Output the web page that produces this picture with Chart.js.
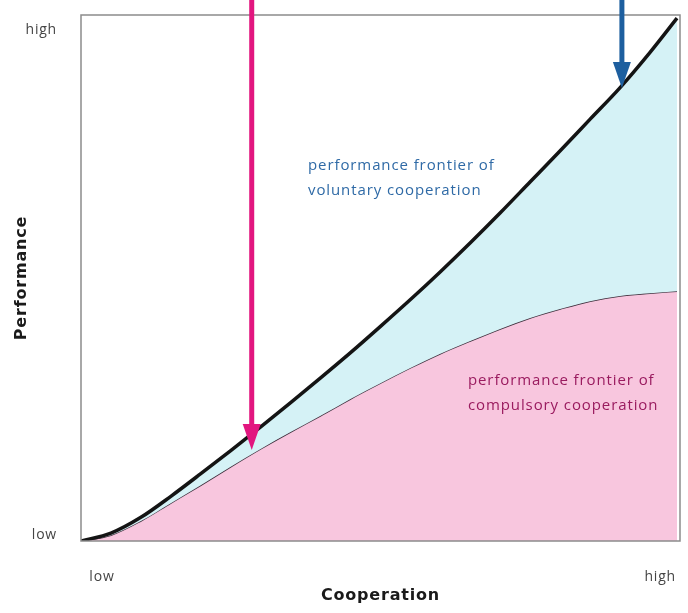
<!DOCTYPE html>
<html>
<head>
<meta charset="utf-8">
<script src="https://cdn.jsdelivr.net/npm/chart.js@4"></script>
<style>
  html, body { margin: 0; padding: 0; background: #fff; }
  #wrap { width: 688px; height: 613px; position: relative; }
</style>
</head>
<body>
<div id="wrap"><canvas id="chart"></canvas></div>
<script>
// ── data (0 = low, 100 = high) ──

const cooperation = [0, 5, 10, 15, 20, 25, 30, 35, 40, 45, 50, 55, 60, 65, 70, 75, 80, 85, 90, 95, 99.5];
const voluntary   = [0, 1.5, 4.5, 8.5, 12.8, 17.2, 21.7, 26.3, 31.0, 35.8, 40.8, 45.9, 51.2, 56.7, 62.4, 68.3, 74.2, 80.2, 86.2, 92.9, 99.4];
const compulsory  = [0, 1.1, 3.8, 7.2, 10.6, 14.1, 17.5, 20.7, 23.8, 27.0, 30.0, 32.9, 35.6, 38.0, 40.3, 42.4, 44.1, 45.6, 46.6, 47.1, 47.5];

const xTickValues = [3.5, 96.7];
const yTickValues = [1.1, 97.1];
const tickLabels = ["low", "high"];

// arrows dropping onto the curves: x position and tip height
const arrowX = [28.5, 90.3];
const arrowTip = [17.3, 86.1];
const arrowColors = ["#e2167f", "#1d5f9f"];

// curve labels: anchor (middle of first line) and text
const labelX = [37.9, 64.6];
const labelY = [71.3, 30.4];
const labelLines = [
  ["performance frontier of", "voluntary cooperation"],
  ["performance frontier of", "compulsory cooperation"],
];
const labelColors = ["#2f6aa6", "#9a1b5f"];

const toPoints = (ys) => cooperation.map((x, i) => ({ x, y: ys[i] }));

// ticks sit inside the range, so the scales need no extra edge padding
const noEdgePadding = (s) => {
  s.paddingTop = 0;
  s.paddingBottom = 0;
  s.paddingLeft = 0;
  s.paddingRight = 0;
};

// the original lettering is a wide geometric face; open the spacing a bit
const wideText = {
  id: "wideText",
  beforeDraw(chart) { chart.ctx.letterSpacing = "0.8px"; },
  afterDraw(chart) { chart.ctx.letterSpacing = "0px"; },
};

// ── plot frame, arrows and curve labels ──

const decorations = {
  id: "decorations",
  afterDatasetsDraw(chart) {
    const { ctx, chartArea: a, scales } = chart;
    ctx.save();

    ctx.strokeStyle = "#8c8c8c";
    ctx.lineWidth = 1.5;
    ctx.strokeRect(a.left, a.top, a.right - a.left, a.bottom - a.top);

    arrowX.forEach((xv, i) => {
      const x = scales.x.getPixelForValue(xv);
      const tip = scales.y.getPixelForValue(arrowTip[i]);
      const headLen = 26, headHalf = 9;
      ctx.strokeStyle = arrowColors[i];
      ctx.fillStyle = arrowColors[i];
      ctx.lineWidth = 5;
      ctx.beginPath();
      ctx.moveTo(x, 0);
      ctx.lineTo(x, tip - headLen + 2);
      ctx.stroke();
      ctx.beginPath();
      ctx.moveTo(x, tip);
      ctx.lineTo(x - headHalf, tip - headLen);
      ctx.lineTo(x + headHalf, tip - headLen);
      ctx.closePath();
      ctx.fill();
    });

    ctx.font = "15px 'Open Sans'";
    ctx.letterSpacing = "0.9px";
    ctx.textBaseline = "middle";
    ctx.textAlign = "left";
    labelLines.forEach((lines, i) => {
      const x = scales.x.getPixelForValue(labelX[i]);
      const y = scales.y.getPixelForValue(labelY[i]);
      ctx.fillStyle = labelColors[i];
      lines.forEach((t, j) => ctx.fillText(t, x, y + j * 25));
    });

    ctx.restore();
  },
};

// ── chart ──

new Chart(document.getElementById("chart"), {
  type: "line",
  data: {
    datasets: [
      {
        label: "voluntary cooperation",
        data: toPoints(voluntary),
        borderColor: "#141414",
        borderWidth: 3.5,
        backgroundColor: "#d5f2f6",
        fill: 1,
        pointRadius: 0,
        cubicInterpolationMode: "monotone",
      },
      {
        label: "compulsory cooperation",
        data: toPoints(compulsory),
        borderColor: "#3e2f3c",
        borderWidth: 1.5,
        backgroundColor: "#f8c6de",
        fill: "origin",
        pointRadius: 0,
        cubicInterpolationMode: "monotone",
      },
    ],
  },
  options: {
    responsive: true,
    maintainAspectRatio: false,
    animation: false,
    layout: { padding: { top: 15, right: 8, left: 0, bottom: 0 } },
    plugins: { legend: { display: false }, tooltip: { enabled: false } },
    scales: {
      x: {
        type: "linear",
        min: 0,
        max: 100,
        grid: { display: false, drawTicks: false },
        border: { display: false },
        afterBuildTicks: (s) => { s.ticks = xTickValues.map((value) => ({ value })); },
        afterFit: (s) => { s.height = 72; noEdgePadding(s); },
        ticks: {
          callback: (v, i) => tickLabels[i],
          padding: 28,
          color: "#444",
          font: { family: "'Open Sans'", size: 14 },
          maxRotation: 0,
        },
        title: {
          display: true,
          text: "Cooperation",
          color: "#1a1a1a",
          font: { family: "'DejaVu Sans'", size: 16, weight: "bold" },
          padding: { top: 0, bottom: 8 },
        },
      },
      y: {
        min: 0,
        max: 100,
        grid: { display: false, drawTicks: false },
        border: { display: false },
        afterBuildTicks: (s) => { s.ticks = yTickValues.map((value) => ({ value })); },
        afterFit: (s) => { s.width = 81; noEdgePadding(s); },
        ticks: {
          callback: (v, i) => tickLabels[i],
          padding: 24,
          color: "#444",
          font: { family: "'Open Sans'", size: 14 },
        },
        title: {
          display: true,
          text: "Performance",
          color: "#1a1a1a",
          font: { family: "'DejaVu Sans'", size: 16, weight: "bold" },
          padding: { top: 12, bottom: 0 },
        },
      },
    },
  },
  plugins: [wideText, decorations],
});
</script>
</body>
</html>
